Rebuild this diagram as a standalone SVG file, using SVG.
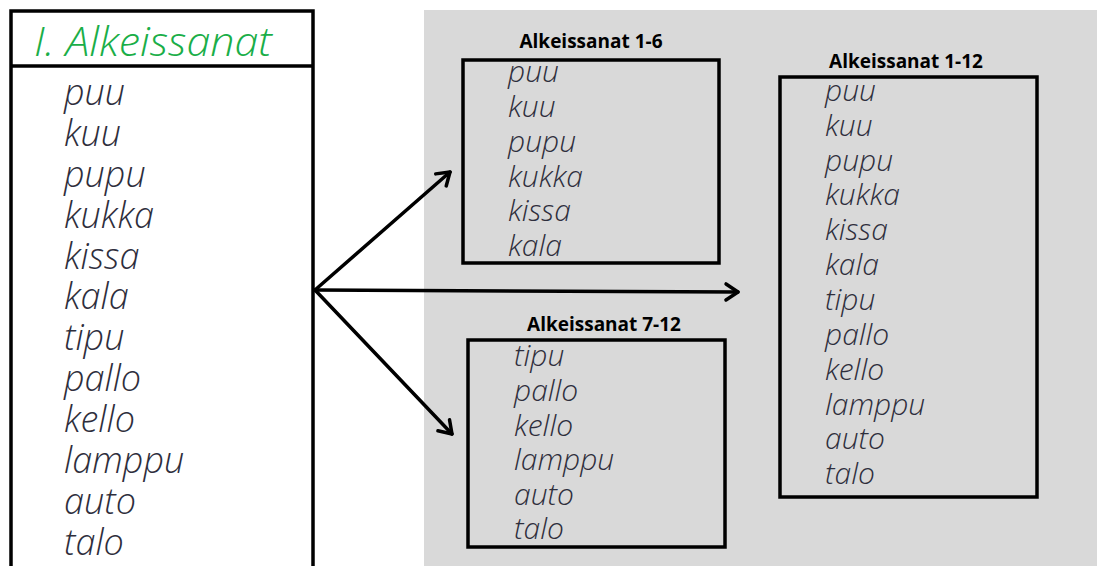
<svg xmlns="http://www.w3.org/2000/svg" width="1097" height="566" viewBox="0 0 1097 566">
  <style>
    .frame { fill: none; stroke: #000; stroke-width: 3.5; }
    .word { font-family: "Open Sans", "Noto Sans", sans-serif; font-style: italic; font-weight: 300; fill: #2e2e3c; }
    .big { font-size: 36px; }
    .small { font-size: 30px; }
    .head { font-family: "Open Sans", "Noto Sans", sans-serif; font-weight: 700; font-size: 19px; fill: #000; text-anchor: middle; }
    .title { font-family: "Open Sans", "Noto Sans", sans-serif; font-style: italic; font-weight: 300; font-size: 41px; fill: #1aae48; }
    .conn { fill: none; stroke: #000; stroke-width: 3.5; stroke-linecap: round; }
  </style>
  <defs>
    <marker id="chevron" viewBox="0 0 12 12" refX="10" refY="6" markerWidth="12" markerHeight="12" markerUnits="userSpaceOnUse" orient="auto" overflow="visible">
      <path d="M-2,-2 L10,6 L-2,14" fill="none" stroke="#000" stroke-width="3.5" stroke-linecap="round" stroke-linejoin="round"/>
    </marker>
  </defs>

  <rect width="1097" height="566" fill="#fff"/>
  <!-- shaded panel behind the grouped lists -->
  <rect x="424" y="10" width="673" height="556" fill="#d9d9d9"/>

  <!-- full word list -->
  <g id="list-all">
    <rect class="frame" x="11" y="11" width="302" height="570"/>
    <line class="frame" x1="11" y1="66" x2="313" y2="66"/>
    <text class="title" x="34" y="56" textLength="238" lengthAdjust="spacingAndGlyphs">I. Alkeissanat</text>
    <text class="word big" x="64">
      <tspan x="64" y="105">puu</tspan>
      <tspan x="64" y="146">kuu</tspan>
      <tspan x="64" y="187">pupu</tspan>
      <tspan x="64" y="228">kukka</tspan>
      <tspan x="64" y="269">kissa</tspan>
      <tspan x="64" y="309">kala</tspan>
      <tspan x="64" y="350">tipu</tspan>
      <tspan x="64" y="391">pallo</tspan>
      <tspan x="64" y="432">kello</tspan>
      <tspan x="64" y="473">lamppu</tspan>
      <tspan x="64" y="514">auto</tspan>
      <tspan x="64" y="555">talo</tspan>
    </text>
  </g>

  <!-- words 1-6 -->
  <g id="list-1-6">
    <text class="head" x="591" y="48">Alkeissanat 1-6</text>
    <rect class="frame" x="463" y="60" width="256" height="203"/>
    <text class="word small">
      <tspan x="508" y="82">puu</tspan>
      <tspan x="508" y="117">kuu</tspan>
      <tspan x="508" y="152">pupu</tspan>
      <tspan x="508" y="187">kukka</tspan>
      <tspan x="508" y="221">kissa</tspan>
      <tspan x="508" y="256">kala</tspan>
    </text>
  </g>

  <!-- words 7-12 -->
  <g id="list-7-12">
    <text class="head" x="604" y="331">Alkeissanat 7-12</text>
    <rect class="frame" x="468" y="340" width="257" height="207"/>
    <text class="word small">
      <tspan x="514" y="366">tipu</tspan>
      <tspan x="514" y="401">pallo</tspan>
      <tspan x="514" y="436">kello</tspan>
      <tspan x="514" y="470">lamppu</tspan>
      <tspan x="514" y="505">auto</tspan>
      <tspan x="514" y="539">talo</tspan>
    </text>
  </g>

  <!-- words 1-12 -->
  <g id="list-1-12">
    <text class="head" x="906" y="68">Alkeissanat 1-12</text>
    <rect class="frame" x="780" y="77" width="257" height="420"/>
    <text class="word small">
      <tspan x="825" y="101">puu</tspan>
      <tspan x="825" y="136">kuu</tspan>
      <tspan x="825" y="171">pupu</tspan>
      <tspan x="825" y="205">kukka</tspan>
      <tspan x="825" y="240">kissa</tspan>
      <tspan x="825" y="275">kala</tspan>
      <tspan x="825" y="310">tipu</tspan>
      <tspan x="825" y="345">pallo</tspan>
      <tspan x="825" y="380">kello</tspan>
      <tspan x="825" y="415">lamppu</tspan>
      <tspan x="825" y="449">auto</tspan>
      <tspan x="825" y="484">talo</tspan>
    </text>
  </g>

  <!-- connectors -->
  <g id="connectors">
    <line class="conn" x1="315" y1="290" x2="450" y2="172" marker-end="url(#chevron)"/>
    <line class="conn" x1="315" y1="290" x2="738" y2="292" marker-end="url(#chevron)"/>
    <line class="conn" x1="315" y1="290" x2="452" y2="434" marker-end="url(#chevron)"/>
  </g>
</svg>
